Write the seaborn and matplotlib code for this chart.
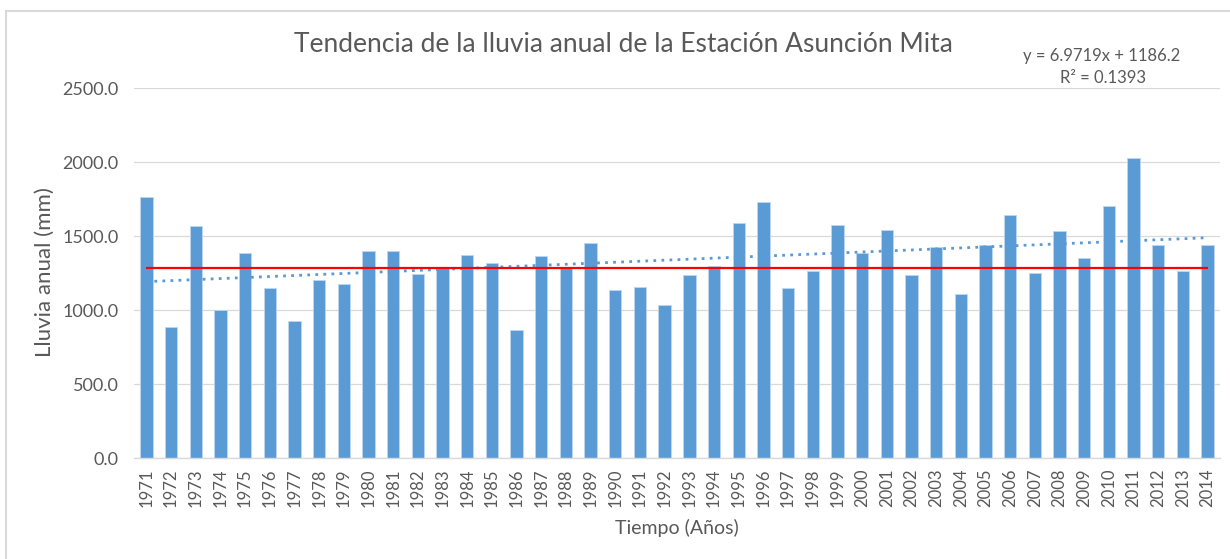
import numpy as np
import pandas as pd
import matplotlib
matplotlib.use('Agg')
import matplotlib.pyplot as plt
import seaborn as sns
from matplotlib.patches import Rectangle

# Annual rainfall, Asunción Mita station (mm)
years = [str(y) for y in range(1971, 2015)]
rain = [1763, 887, 1572, 1000, 1387, 1149, 928, 1203, 1176, 1401,
        1401, 1245, 1284, 1374, 1320, 867, 1367, 1288, 1455, 1140,
        1155, 1038, 1236, 1297, 1592, 1730, 1149, 1263, 1578, 1387,
        1545, 1236, 1426, 1112, 1439, 1646, 1250, 1538, 1351, 1707,
        2029, 1439, 1263, 1439]
ref_level = 1285          # red reference line
trend_slope = 6.9719
trend_icpt = 1186.2
trend_r2 = 0.1393

df = pd.DataFrame({'year': years, 'rain': rain})

BLUE = '#5B9BD5'
GREY_TXT = '#595959'
GRID = '#D9D9D9'

sns.set_theme(style='white')
plt.rcParams['font.family'] = ['Lato', 'DejaVu Sans']

fig = plt.figure(figsize=(12.3, 5.59), dpi=100)
ax = fig.add_axes([134 / 1230, 1 - 458.3 / 559, (1220 - 134) / 1230, (458.3 - 88.3) / 559])

sns.barplot(data=df, x='year', y='rain', color=BLUE, saturation=1, width=0.5,
            edgecolor='#BDD7EE', linewidth=0.6, ax=ax, zorder=2)

# linear trend (dotted), fitted over the bar positions
sns.regplot(x=np.arange(len(years)), y=np.array(rain, dtype=float), scatter=False, ci=None,
            truncate=True, ax=ax,
            line_kws=dict(color=BLUE, lw=2, ls=(0, (1, 1.9)), zorder=3))

# reference level
ax.hlines(ref_level, 0, len(years) - 1, color='red', lw=1.6, zorder=4)

ax.set_xlim(-0.5, len(years) - 0.5)
ax.set_ylim(0, 2500)
ax.set_yticks(np.arange(0, 2501, 500))
ax.set_yticklabels([f'{v:.1f}' for v in np.arange(0, 2501, 500)])
ax.set_xlabel('')
ax.set_ylabel('')

ax.yaxis.grid(True, color=GRID, lw=0.9)
ax.set_axisbelow(True)
for s in ['top', 'right', 'left']:
    ax.spines[s].set_visible(False)
ax.spines['bottom'].set_color(GRID)
ax.spines['bottom'].set_linewidth(1)

ax.tick_params(axis='y', length=0, pad=11, labelsize=13, labelcolor=GREY_TXT)
ax.tick_params(axis='x', length=0, pad=7, labelsize=12, labelcolor=GREY_TXT, rotation=90)

fig.text(623 / 1230, 1 - 45 / 559, 'Tendencia de la lluvia anual de la Estación Asunción Mita',
         ha='center', va='center', fontsize=19, color=GREY_TXT)
fig.text(1102 / 1230, 1 - 56 / 559, f'y = {trend_slope}x + {trend_icpt}',
         ha='center', va='center', fontsize=12, color=GREY_TXT)
fig.text(1103 / 1230, 1 - 78 / 559, f'R² = {trend_r2}',
         ha='center', va='center', fontsize=12, color=GREY_TXT)
fig.text(677 / 1230, 1 - 528 / 559, 'Tiempo (Años)',
         ha='center', va='center', fontsize=14, color=GREY_TXT)
fig.text(45 / 1230, 1 - 272 / 559, 'Lluvia anual (mm)', rotation=90,
         ha='center', va='center', fontsize=16, color=GREY_TXT)

# chart area frame (cut off at right and bottom like the screenshot)
fig.add_artist(Rectangle((6 / 1230, -0.1), 1.2, 1 - 11 / 559 + 0.1, transform=fig.transFigure,
                         fill=False, ec=GRID, lw=1.5))

fig.savefig('out.png', dpi=100)
